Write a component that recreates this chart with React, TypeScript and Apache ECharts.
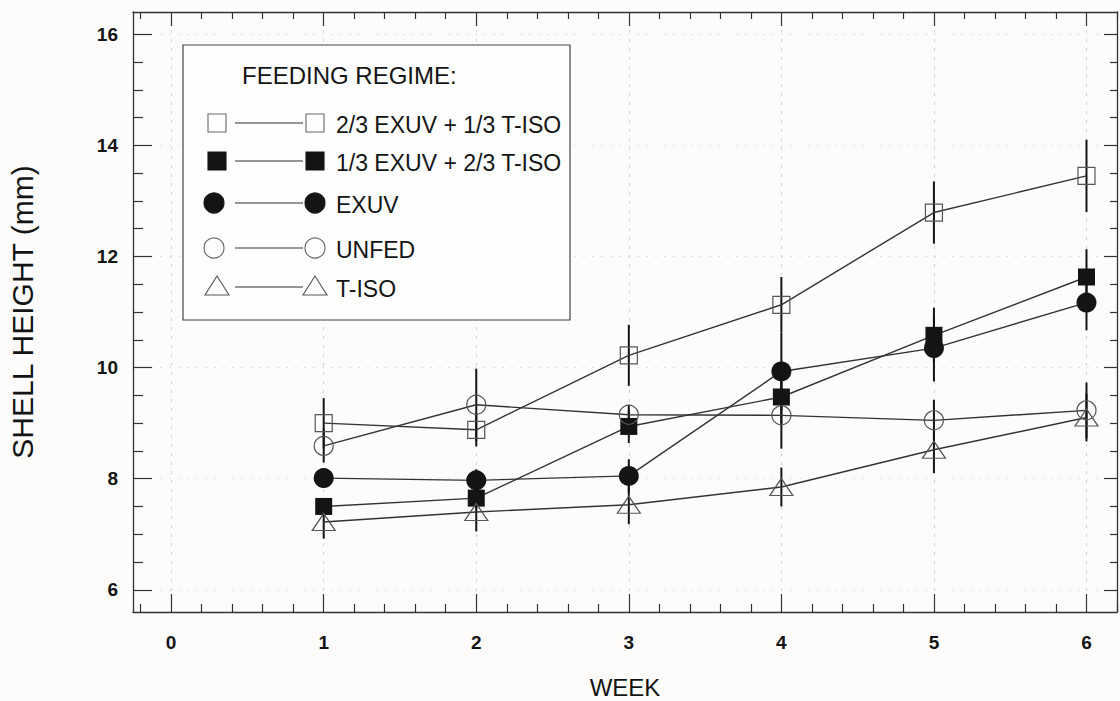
import React, { useEffect, useRef } from "react";
import * as echarts from "echarts";

// ---- data ----
const weeks = [1, 2, 3, 4, 5, 6];

const exuv23 = [9.0, 8.88, 10.22, 11.13, 12.79, 13.45];
const exuv23Err = [0.45, 0.3, 0.55, 0.5, 0.56, 0.65];

const exuv13 = [7.5, 7.65, 8.94, 9.47, 10.58, 11.63];
const exuv13Err = [0.15, 0.2, 0.3, 0.5, 0.5, 0.5];

const exuv = [8.01, 7.97, 8.05, 9.93, 10.35, 11.17];
const exuvErr = [0.15, 0.2, 0.3, 0.7, 0.6, 0.5];

const unfed = [8.59, 9.33, 9.15, 9.14, 9.05, 9.23];
const unfedErr = [0.3, 0.65, 0.18, 0.6, 0.37, 0.5];

const tiso = [7.22, 7.4, 7.53, 7.85, 8.52, 9.1];
const tisoErr = [0.3, 0.35, 0.35, 0.35, 0.42, 0.43];

const seriesNames = [
  "2/3 EXUV + 1/3 T-ISO",
  "1/3 EXUV + 2/3 T-ISO",
  "EXUV",
  "UNFED",
  "T-ISO",
];

const xMajorTicks = [0, 1, 2, 3, 4, 5, 6];
const xMinorTicks = [
  -0.2, 0.2, 0.4, 0.6, 0.8, 1.2, 1.4, 1.6, 1.8, 2.2, 2.4, 2.6, 2.8, 3.2, 3.4,
  3.6, 3.8, 4.2, 4.4, 4.6, 4.8, 5.2, 5.4, 5.6, 5.8, 6.2,
];
const yMajorTicks = [6, 8, 10, 12, 14, 16];
const yMinorTicks = [
  6.5, 7, 7.5, 8.5, 9, 9.5, 10.5, 11, 11.5, 12.5, 13, 13.5, 14.5, 15, 15.5,
];

const X_MIN = -0.25;
const X_MAX = 6.2;
const Y_MIN = 5.6;
const Y_MAX = 16.4;

const FONT = "'Liberation Sans', Arial, Helvetica, sans-serif";
const INK = "#141414";
const LINE = "#333333";
const BG = "#fdfcfb";

type Def = {
  name: string;
  values: number[];
  errors: number[];
  symbol: string;
  size: number | number[];
  filled: boolean;
};

const defs: Def[] = [
  { name: seriesNames[0], values: exuv23, errors: exuv23Err, symbol: "rect", size: 17, filled: false },
  { name: seriesNames[1], values: exuv13, errors: exuv13Err, symbol: "rect", size: 17, filled: true },
  { name: seriesNames[2], values: exuv, errors: exuvErr, symbol: "circle", size: 20, filled: true },
  { name: seriesNames[3], values: unfed, errors: unfedErr, symbol: "circle", size: 19, filled: false },
  { name: seriesNames[4], values: tiso, errors: tisoErr, symbol: "triangle", size: [23, 17], filled: false },
];

function xAxisDef(pos: "bottom" | "top", ticks: number[], len: number, main: boolean): any {
  return {
    type: "value",
    min: X_MIN,
    max: X_MAX,
    position: pos,
    axisLine: { show: main, onZero: false, lineStyle: { color: LINE, width: 1.3 } },
    axisTick: { show: true, inside: true, length: len, customValues: ticks, lineStyle: { color: LINE, width: 1.2 } },
    axisLabel: main && pos === "bottom"
      ? { show: true, customValues: xMajorTicks, margin: 21, fontSize: 19, fontWeight: "bold", color: INK, fontFamily: FONT }
      : { show: false },
    splitLine: main && pos === "bottom"
      ? { show: true, lineStyle: { color: "#d2d2d2", type: [3, 6], width: 1 } }
      : { show: false },
    ...(main && pos === "bottom"
      ? {
          name: "WEEK",
          nameLocation: "middle",
          nameGap: 63,
          nameTextStyle: { fontSize: 24, color: INK, fontFamily: FONT },
        }
      : {}),
  };
}

function yAxisDef(pos: "left" | "right", ticks: number[], len: number, main: boolean): any {
  return {
    type: "value",
    min: Y_MIN,
    max: Y_MAX,
    position: pos,
    axisLine: { show: main, onZero: false, lineStyle: { color: LINE, width: 1.3 } },
    axisTick: { show: true, inside: true, length: len, customValues: ticks, lineStyle: { color: LINE, width: 1.2 } },
    axisLabel: main && pos === "left"
      ? { show: true, customValues: yMajorTicks, margin: 15, fontSize: 19, fontWeight: "bold", color: INK, fontFamily: FONT }
      : { show: false },
    splitLine: main && pos === "left"
      ? { show: true, lineStyle: { color: "#e2e2e2", type: [2, 7], width: 1 } }
      : { show: false },
    ...(main && pos === "left"
      ? {
          name: "SHELL HEIGHT (mm)",
          nameLocation: "middle",
          nameGap: 96,
          nameTextStyle: { fontSize: 30, color: INK, fontFamily: FONT },
        }
      : {}),
  };
}

function legendGraphic(): any[] {
  const els: any[] = [];
  els.push({
    type: "rect",
    shape: { x: 183, y: 45, width: 387, height: 275 },
    style: { fill: "#fefefe", stroke: "#444", lineWidth: 1.2 },
    z: 10,
  });
  els.push({
    type: "text",
    x: 242,
    y: 75,
    style: { text: "FEEDING REGIME:", fontSize: 24, fontFamily: FONT, fill: INK, verticalAlign: "middle" },
    z: 11,
  });
  const rows = [123, 161, 203, 248, 287];
  const marker = (kind: number, cx: number, cy: number) => {
    const d = defs[kind];
    if (d.symbol === "rect") {
      return {
        type: "rect",
        shape: { x: cx - 9, y: cy - 9, width: 18, height: 18 },
        style: { fill: d.filled ? INK : "none", stroke: d.filled ? INK : "#666", lineWidth: 1.1 },
        z: 11,
      };
    }
    if (d.symbol === "circle") {
      return {
        type: "circle",
        shape: { cx, cy, r: 10 },
        style: { fill: d.filled ? INK : "none", stroke: d.filled ? INK : "#666", lineWidth: 1.1 },
        z: 11,
      };
    }
    return {
      type: "polygon",
      shape: { points: [[cx, cy - 11], [cx + 12, cy + 8], [cx - 12, cy + 8]] },
      style: { fill: "none", stroke: "#555", lineWidth: 1.1 },
      z: 11,
    };
  };
  defs.forEach((d, i) => {
    const cy = rows[i];
    const lx = d.symbol === "circle" ? 214 : 217;
    els.push(marker(i, lx, cy));
    els.push({
      type: "line",
      shape: { x1: 235, y1: cy, x2: 303, y2: cy },
      style: { stroke: LINE, lineWidth: 1.2 },
      z: 11,
    });
    els.push(marker(i, 315, cy));
    els.push({
      type: "text",
      x: 336,
      y: cy + 2,
      style: { text: d.name, fontSize: 23, fontFamily: FONT, fill: INK, verticalAlign: "middle" },
      z: 11,
    });
  });
  return els;
}

export default function App() {
  const ref = useRef<HTMLDivElement>(null);

  useEffect(() => {
    if (!ref.current) return;
    const chart = echarts.init(ref.current, undefined, { renderer: "svg" });

    const errSeries = defs.map((d) => ({
      type: "custom",
      name: d.name + " err",
      xAxisIndex: 0,
      yAxisIndex: 0,
      silent: true,
      z: 2,
      data: weeks.map((w, i) => [w, d.values[i] - d.errors[i], d.values[i] + d.errors[i]]),
      encode: { x: 0, y: [1, 2] },
      renderItem: (_p: any, api: any) => {
        const lo = api.coord([api.value(0), api.value(1)]);
        const hi = api.coord([api.value(0), api.value(2)]);
        return {
          type: "line",
          shape: { x1: lo[0], y1: lo[1], x2: hi[0], y2: hi[1] },
          style: { stroke: INK, lineWidth: 2 },
        };
      },
    }));

    const lineSeries = defs.map((d) => ({
      type: "line",
      name: d.name,
      xAxisIndex: 0,
      yAxisIndex: 0,
      data: weeks.map((w, i) => [w, d.values[i]]),
      symbol: d.symbol,
      symbolSize: d.size,
      showAllSymbol: true,
      z: 3,
      lineStyle: { color: LINE, width: 1.4 },
      itemStyle: d.filled
        ? { color: INK, borderColor: INK, borderWidth: 0 }
        : { color: "rgba(0,0,0,0)", borderColor: "#555", borderWidth: 1.2 },
      emphasis: { disabled: true },
    }));

    chart.setOption({
      animation: false,
      backgroundColor: BG,
      grid: {
        left: 133,
        right: 3,
        top: 12,
        bottom: 89,
        containLabel: false,
        outerBoundsMode: "none",
      },
      xAxis: [
        xAxisDef("bottom", xMajorTicks, 18, true),
        xAxisDef("bottom", xMinorTicks, 8, false),
        xAxisDef("top", xMajorTicks, 14, true),
        xAxisDef("top", xMinorTicks, 7, false),
      ],
      yAxis: [
        yAxisDef("left", yMajorTicks, 19, true),
        yAxisDef("left", yMinorTicks, 10, false),
        yAxisDef("right", yMajorTicks, 13, true),
        yAxisDef("right", yMinorTicks, 7, false),
      ],
      series: [...errSeries, ...lineSeries],
      graphic: legendGraphic(),
    });

    return () => chart.dispose();
  }, []);

  return (
    <div
      ref={ref}
      style={{ position: "fixed", left: 0, top: 0, width: 1120, height: 701 }}
    />
  );
}
